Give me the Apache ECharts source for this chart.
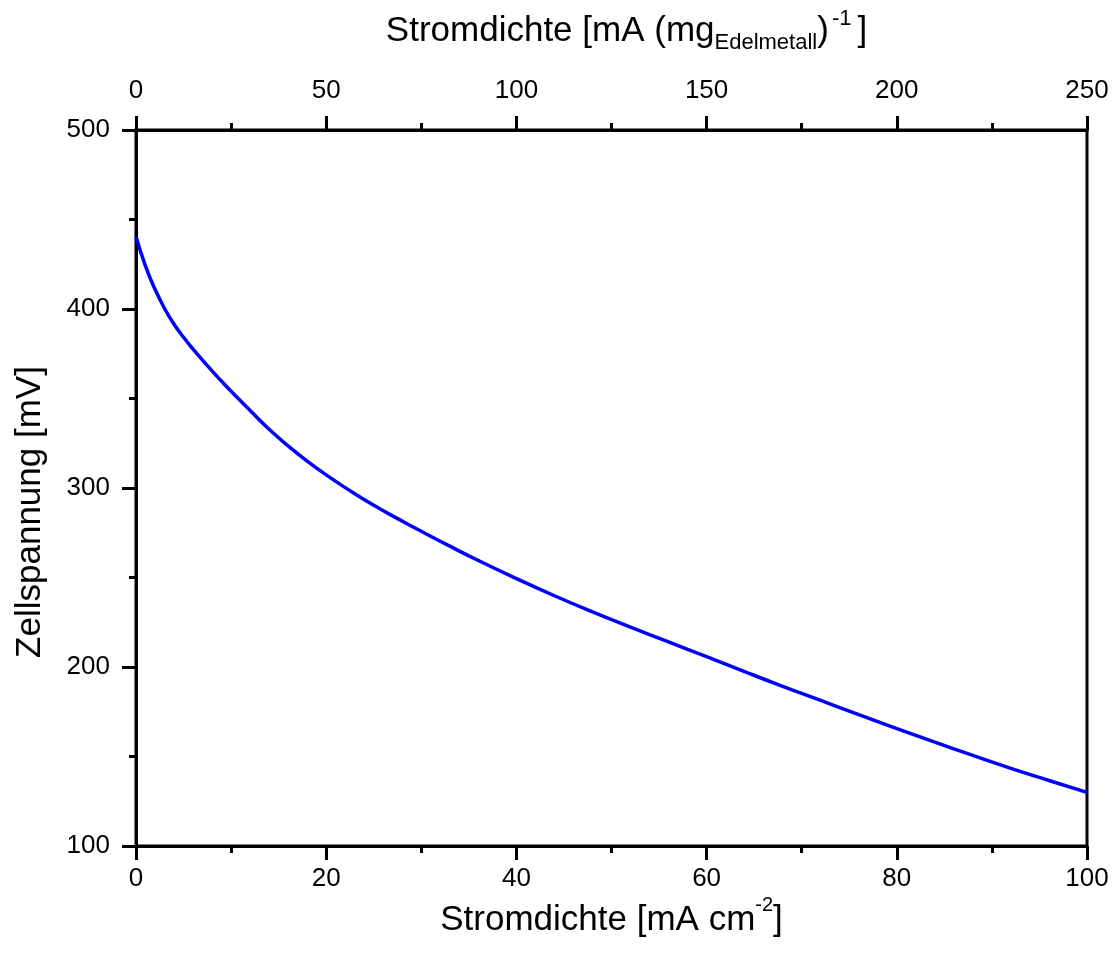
<!DOCTYPE html>
<html>
<head>
<meta charset="utf-8">
<script src="https://cdn.jsdelivr.net/npm/echarts@6/dist/echarts.min.js"></script>
<style>
  html, body { margin: 0; padding: 0; background: #fff; }
  #chart { width: 1118px; height: 961px; }
</style>
</head>
<body>
<div id="chart"></div>
<script>
// current density [mA cm^-2] and cell voltage [mV]
const currentDensity = [0, 1, 2, 3, 4, 5, 6, 7, 8, 9, 10, 12, 14, 16, 18, 20, 22, 25, 28, 30,
  33, 36, 40, 44, 48, 52, 56, 60, 64, 68, 72, 76, 80, 84, 88, 92, 96, 100];
const cellVoltage = [440.5, 424, 411, 400.3, 391.5, 384.2, 377.6, 371.4, 365.4, 359.6, 354, 343.3, 332.8, 323.5, 315, 307.3, 300.2, 290.3, 281.5, 275.8,
  267.5, 259.5, 249.4, 239.8, 230.8, 222.3, 214, 205.8, 197.4, 189.2, 181.3, 173.4, 165.6, 158, 150.6, 143.4, 136.6, 130];

const FONT = '"Liberation Sans", Arial, sans-serif';
const AXIS_LINE = { show: true, onZero: false, lineStyle: { color: '#000', width: 3 } };
const TICK = { show: true, length: 14, lineStyle: { color: '#000', width: 3 } };
const MINOR_TICK = { show: true, splitNumber: 2, length: 7, lineStyle: { color: '#000', width: 3 } };
const labelStyle = (margin) => ({ fontSize: 26, color: '#000', fontFamily: FONT, margin });

const chart = echarts.init(document.getElementById('chart'));

chart.setOption({
  animation: false,
  grid: {
    left: 136, right: 31, top: 130, bottom: 115,
    show: true, borderColor: '#000', borderWidth: 3,
  },
  xAxis: [
    {
      type: 'value', position: 'bottom',
      min: 0, max: 100, interval: 20,
      name: '{t|Stromdichte [mA cm}{sup|-2}{t|]}',
      nameLocation: 'middle', nameGap: 46, nameMoveOverlap: false,
      nameTextStyle: {
        rich: {
          t: { fontSize: 35, fontFamily: FONT, color: '#000', lineHeight: 46, verticalAlign: 'bottom' },
          sup: { fontSize: 20, fontFamily: FONT, color: '#000', lineHeight: 46, verticalAlign: 'top', padding: [3, 0, 0, 0] },
        },
      },
      axisLine: AXIS_LINE,
      axisTick: TICK,
      minorTick: MINOR_TICK,
      axisLabel: labelStyle(20),
      splitLine: { show: false },
    },
    {
      type: 'value', position: 'top',
      min: 0, max: 250, interval: 50,
      name: '{t|Stromdichte [mA (mg}{sub|Edelmetall}{t|)}{sup|-1}{t|]}',
      nameLocation: 'middle', nameGap: 76,
      nameTextStyle: {
        padding: [0, 0, 0, 30],
        rich: {
          t: { fontSize: 35, fontFamily: FONT, color: '#000', lineHeight: 46, verticalAlign: 'middle' },
          sub: { fontSize: 22, fontFamily: FONT, color: '#000', lineHeight: 46, verticalAlign: 'bottom' },
          sup: { fontSize: 22, fontFamily: FONT, color: '#000', lineHeight: 46, verticalAlign: 'top', padding: [0, 6, 0, 3] },
        },
      },
      axisLine: AXIS_LINE,
      axisTick: TICK,
      minorTick: MINOR_TICK,
      axisLabel: labelStyle(26),
      splitLine: { show: false },
    },
  ],
  yAxis: [
    {
      type: 'value', position: 'left',
      min: 100, max: 500, interval: 100,
      name: 'Zellspannung [mV]',
      nameLocation: 'middle', nameGap: 88, nameRotate: 90,
      nameTextStyle: { fontSize: 35, fontFamily: FONT, color: '#000', padding: [0, 48, 0, 0] },
      axisLine: AXIS_LINE,
      axisTick: TICK,
      minorTick: MINOR_TICK,
      axisLabel: labelStyle(26),
      splitLine: { show: false },
    },
  ],
  series: [
    {
      type: 'line',
      xAxisIndex: 0,
      yAxisIndex: 0,
      data: currentDensity.map((x, i) => [x, cellVoltage[i]]),
      smooth: 0.5,
      showSymbol: false,
      lineStyle: { color: '#0000ff', width: 3.5 },
    },
  ],
});
</script>
</body>
</html>
